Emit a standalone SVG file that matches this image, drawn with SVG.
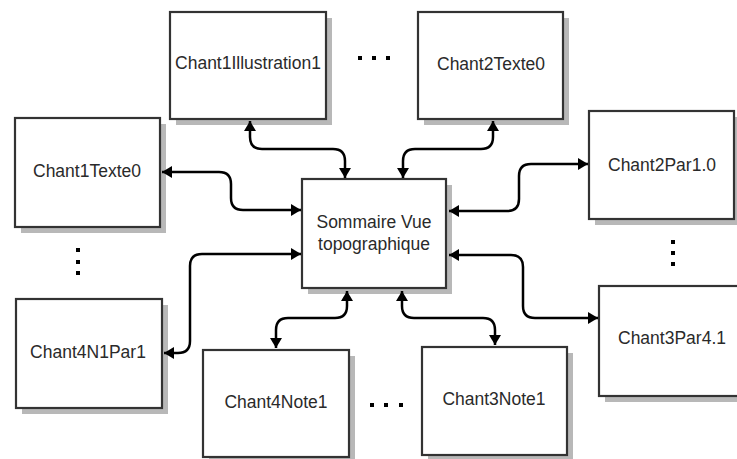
<svg xmlns="http://www.w3.org/2000/svg" width="737" height="459" viewBox="0 0 737 459">
<style>
.shadow{fill:#b8b8b8;stroke:none}
.box{fill:#fff;stroke:#333;stroke-width:2.2}
.lbl{font-family:"Liberation Sans",Arial,sans-serif;font-size:17.5px;fill:#2a2a2a;text-anchor:middle}
.conn{fill:none;stroke:#000;stroke-width:2.5;marker-start:url(#ah);marker-end:url(#ah)}
.dot{fill:#000}
</style>
<defs>
<marker id="ah" markerUnits="userSpaceOnUse" markerWidth="12" markerHeight="13" refX="10" refY="6.5" orient="auto-start-reverse">
<path d="M0,0.5 L10,6.5 L0,12.5 z" fill="#000"/>
</marker>
</defs>
<rect width="737" height="459" fill="#fff"/>
<g id="n-illustration">
<rect class="shadow" x="176" y="18" width="156" height="107"/>
<rect class="box" x="170" y="12" width="156" height="107"/>
<text class="lbl" x="248" y="69">Chant1Illustration1</text>
</g>
<g id="n-chant2texte0">
<rect class="shadow" x="424" y="18" width="145" height="107"/>
<rect class="box" x="418" y="12" width="145" height="107"/>
<text class="lbl" x="491" y="70">Chant2Texte0</text>
</g>
<g id="n-chant1texte0">
<rect class="shadow" x="21" y="124" width="145" height="109"/>
<rect class="box" x="15" y="118" width="145" height="109"/>
<text class="lbl" x="87" y="177">Chant1Texte0</text>
</g>
<g id="n-chant4n1par1">
<rect class="shadow" x="22" y="305" width="146" height="109"/>
<rect class="box" x="16" y="299" width="146" height="109"/>
<text class="lbl" x="88" y="358">Chant4N1Par1</text>
</g>
<g id="n-center">
<rect class="shadow" x="308" y="185" width="144" height="109"/>
<rect class="box" x="302" y="179" width="144" height="109"/>
<text class="lbl" x="374" y="228">Sommaire Vue</text>
<text class="lbl" x="374" y="250">topographique</text>
</g>
<g id="n-chant2par1">
<rect class="shadow" x="595" y="117" width="146" height="108"/>
<rect class="box" x="589" y="111" width="145" height="108"/>
<text class="lbl" x="662" y="171">Chant2Par1.0</text>
</g>
<g id="n-chant3par4">
<rect class="shadow" x="605" y="292" width="146" height="110"/>
<rect class="box" x="599" y="286" width="146" height="110"/>
<text class="lbl" x="672" y="344">Chant3Par4.1</text>
</g>
<g id="n-chant4note1">
<rect class="shadow" x="209" y="356" width="146" height="107"/>
<rect class="box" x="203" y="350" width="146" height="107"/>
<text class="lbl" x="276" y="408">Chant4Note1</text>
</g>
<g id="n-chant3note1">
<rect class="shadow" x="428" y="353" width="145" height="108"/>
<rect class="box" x="422" y="347" width="145" height="108"/>
<text class="lbl" x="494" y="405">Chant3Note1</text>
</g>
<g id="ellipses">
<rect class="dot" x="358" y="56" width="4" height="4"/>
<rect class="dot" x="372" y="56" width="4" height="4"/>
<rect class="dot" x="386" y="56" width="4" height="4"/>
<rect class="dot" x="370" y="403" width="4" height="4"/>
<rect class="dot" x="384" y="403" width="4" height="4"/>
<rect class="dot" x="399" y="403" width="4" height="4"/>
<rect class="dot" x="76" y="248" width="4" height="4"/>
<rect class="dot" x="76" y="260" width="4" height="4"/>
<rect class="dot" x="76" y="271" width="4" height="4"/>
<rect class="dot" x="671" y="240" width="4" height="4"/>
<rect class="dot" x="671" y="251" width="4" height="4"/>
<rect class="dot" x="671" y="262" width="4" height="4"/>
</g>
<g id="connectors">
<path class="conn" d="M162,172 H219 Q231,172 231,184 V198 Q231,210 243,210 H301"/>
<path class="conn" d="M301,254 H202 Q190,254 190,266 V341 Q190,353 178,353 H164"/>
<path class="conn" d="M250,121 V137 Q250,149 262,149 H333 Q345,149 345,161 V178"/>
<path class="conn" d="M493,121 V137 Q493,149 481,149 H415 Q403,149 403,161 V178"/>
<path class="conn" d="M449,211 H507 Q519,211 519,199 V176 Q519,164 531,164 H588"/>
<path class="conn" d="M449,255 H511 Q523,255 523,267 V306 Q523,318 535,318 H598"/>
<path class="conn" d="M347,291 V306 Q347,318 335,318 H288 Q276,318 276,330 V348"/>
<path class="conn" d="M402,291 V306 Q402,318 414,318 H483 Q495,318 495,330 V345"/>
</g>
</svg>
